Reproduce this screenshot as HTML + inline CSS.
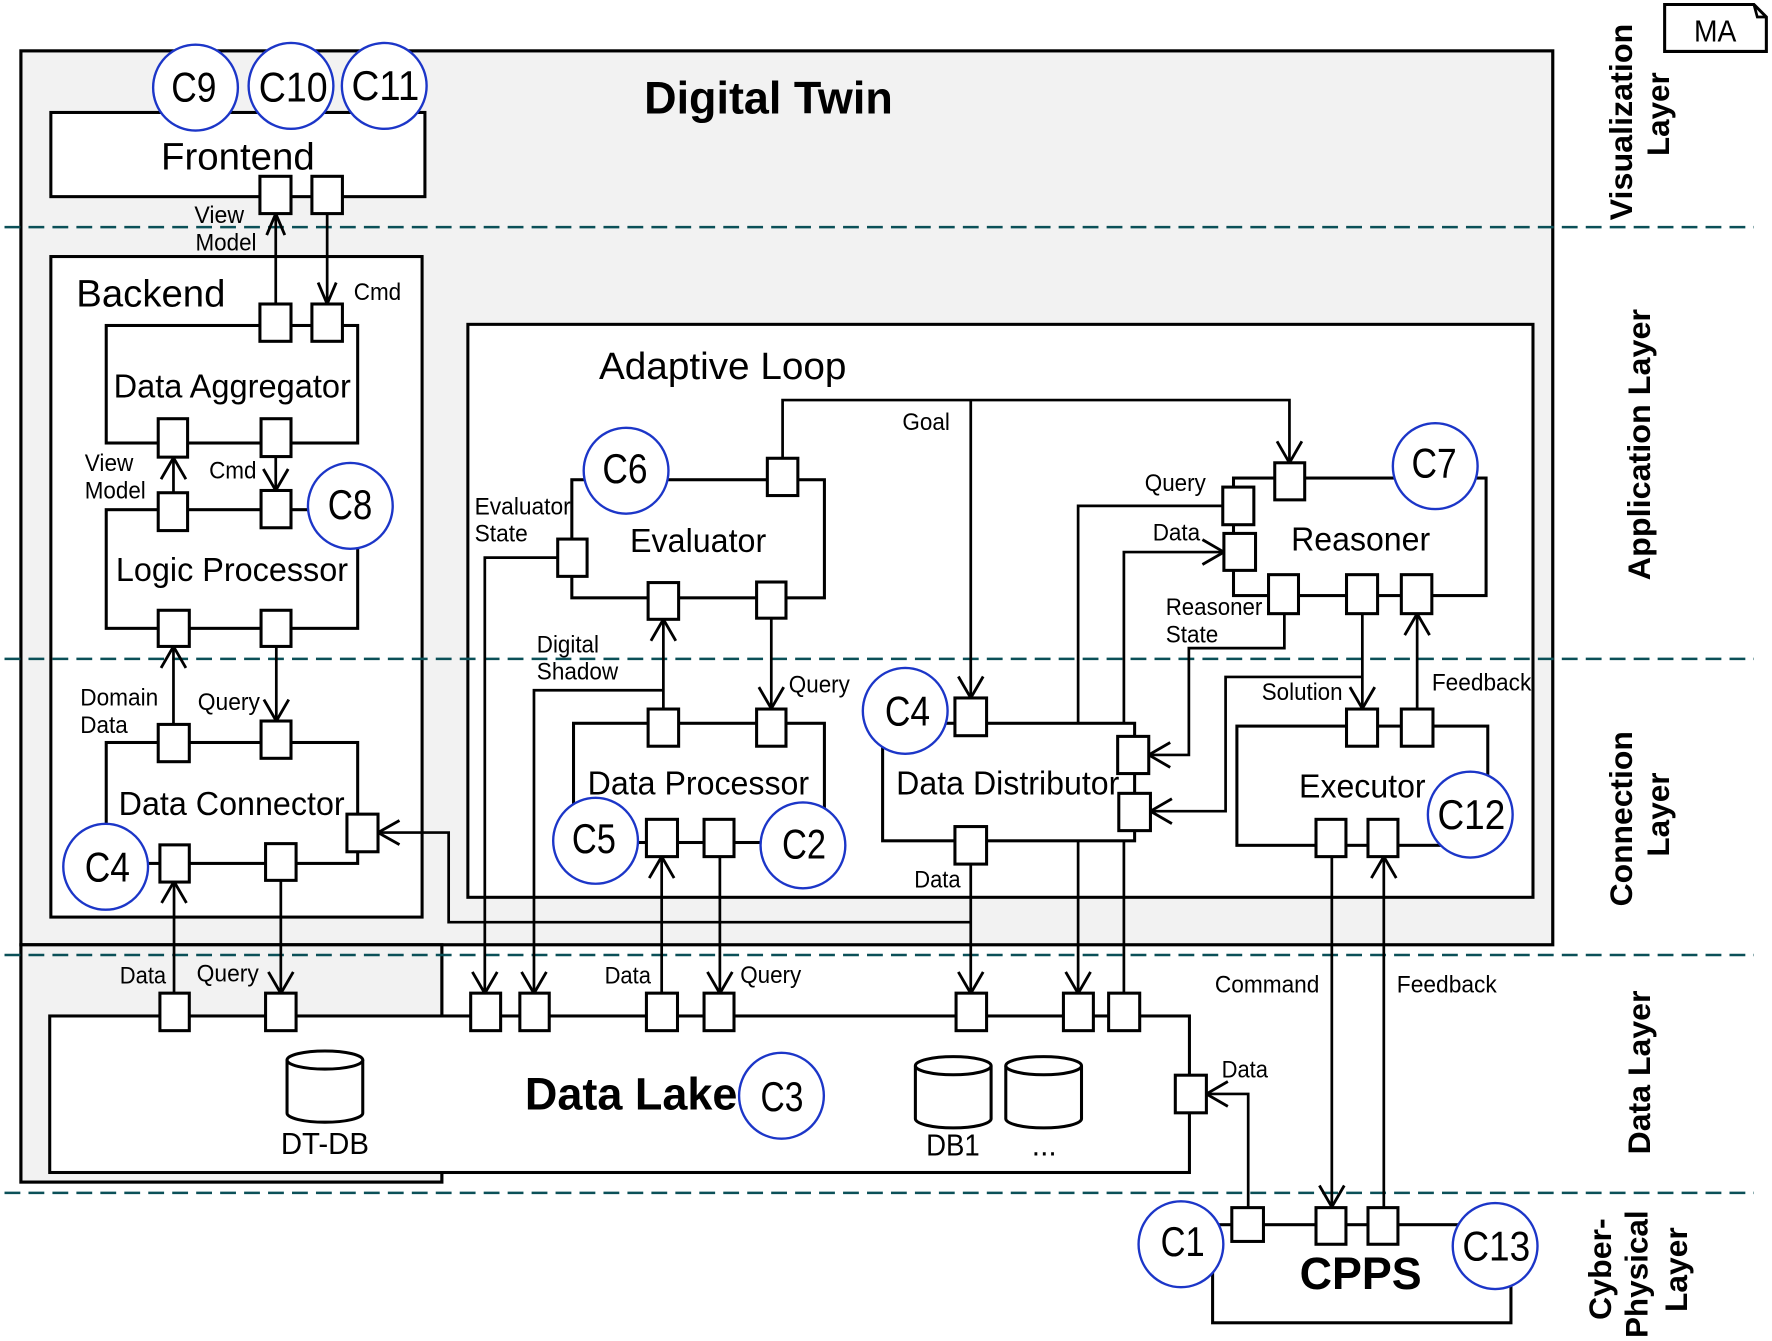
<!DOCTYPE html>
<html><head><meta charset="utf-8"><title>Digital Twin Architecture</title>
<style>
html,body{margin:0;padding:0;background:#fff}
svg{display:block}
text{font-family:"Liberation Sans",sans-serif;fill:#000}
text:not(.v){transform:translateY(.6px)}
.b{fill:#fff;stroke:#000;stroke-width:2.7}
.g{fill:#f2f2f2;stroke:#000;stroke-width:2.8}
.p{fill:#fff;stroke:#000;stroke-width:2.7}
.c{fill:none;stroke:#000;stroke-width:2.4}
.a{fill:none;stroke:#000;stroke-width:2.5}
.e{fill:#fff;stroke:#1c36c8;stroke-width:2.1}
.d{fill:none;stroke:#0b5058;stroke-width:2.2;stroke-dasharray:14 7.2}
.s{font-size:21px}
.m{font-size:29.500px}
.l{font-size:33.500px}
.k{font-size:37px}
.h{font-weight:bold;font-size:40.500px}
.v{font-weight:bold;font-size:28px}
</style></head><body>
<svg xmlns="http://www.w3.org/2000/svg" width="1772" height="1341" viewBox="0 0 1568 1186.6">
<rect width="1568" height="1187" fill="#fff"/>

<!-- containers -->
<rect class="g" x="18.5" y="45" width="1355.5" height="791"/>
<rect class="g" x="18.5" y="836" width="372.5" height="210"/>
<rect class="b" x="44" y="899" width="1008.5" height="138.5"/>
<rect class="b" x="45" y="99.5" width="331" height="74.5"/>
<rect class="b" x="45" y="227" width="328.5" height="584.5"/>
<rect class="b" x="414" y="287" width="942.5" height="507"/>

<!-- components -->
<rect class="b" x="94" y="288" width="222.5" height="104"/>
<rect class="b" x="94" y="451" width="222.5" height="105"/>
<rect class="b" x="94" y="657" width="222.5" height="107"/>
<rect class="b" x="506" y="424.5" width="223.5" height="104.5"/>
<rect class="b" x="507.5" y="640" width="222" height="105.5"/>
<rect class="b" x="781" y="640" width="223" height="104"/>
<rect class="b" x="1091.5" y="423" width="223.5" height="104"/>
<rect class="b" x="1094.5" y="642.5" width="222" height="105.5"/>
<rect class="b" x="1073" y="1083.7" width="264" height="86.8"/>

<!-- layer dividers -->
<path class="d" d="M4 201H1552M4 583H1552M4 845H1552M4 1055.5H1552"/>

<!-- connectors -->
<path class="c" d="M244 269V189M289.5 189V269M153.5 405V436M244 404V434M153.5 641V572M244.5 572V638M154 879V780M248.5 779V879"/>
<path class="c" d="M334.5 736.7H397V816H859M859 764.6V879"/>
<path class="c" d="M692.5 405.5V354H1141V409.5M859 354V617.6"/>
<path class="c" d="M493.5 493.4H429V879"/>
<path class="c" d="M587 627V548M587 610.8H472.5V879"/>
<path class="c" d="M682.5 547V627M585.5 879V758M637 758V879"/>
<path class="c" d="M1082 447.6H954V640M954 744V879"/>
<path class="c" d="M1083 488.5H994.5V640M994.5 744V879"/>
<path class="c" d="M1136.5 543V573.5H1052V668H1016.5"/>
<path class="c" d="M1205.5 543V627M1205.5 599H1084.5V717.8H1018"/>
<path class="c" d="M1254 627V543"/>
<path class="c" d="M1178.5 758V1068M1224.5 1068V758"/>
<path class="c" d="M1104.5 1068V968H1067.5"/>

<!-- arrowheads -->
<g class="a">
<polyline class="a" points="236,208 244,189 252,208"/>
<polyline class="a" points="281.500,250 289.500,269 297.500,250"/>
<polyline class="a" points="142.500,424 153.500,405 164.500,424"/>
<polyline class="a" points="233,415 244,434 255,415"/>
<polyline class="a" points="142.500,591 153.500,572 164.500,591"/>
<polyline class="a" points="233.500,619 244.500,638 255.500,619"/>
<polyline class="a" points="143,799 154,780 165,799"/>
<polyline class="a" points="237.500,860 248.500,879 259.500,860"/>
<polyline class="a" points="353.500,726 334.500,736.700 353.500,747.400"/>
<polyline class="a" points="848,860 859,879 870,860"/>
<polyline class="a" points="1130,390.500 1141,409.500 1152,390.500"/>
<polyline class="a" points="848,598.600 859,617.600 870,598.600"/>
<polyline class="a" points="418,860 429,879 440,860"/>
<polyline class="a" points="461.500,860 472.500,879 483.500,860"/>
<polyline class="a" points="576,567 587,548 598,567"/>
<polyline class="a" points="671.500,608 682.500,627 693.500,608"/>
<polyline class="a" points="574.500,777 585.500,758 596.500,777"/>
<polyline class="a" points="626,860 637,879 648,860"/>
<polyline class="a" points="943,860 954,879 965,860"/>
<polyline class="a" points="1064,477.500 1083,488.500 1064,499.500"/>
<polyline class="a" points="1035.500,657 1016.500,668 1035.500,679"/>
<polyline class="a" points="1037,706.800 1018,717.800 1037,728.800"/>
<polyline class="a" points="1194.500,608 1205.500,627 1216.500,608"/>
<polyline class="a" points="1243,562 1254,543 1265,562"/>
<polyline class="a" points="1167.500,1049 1178.500,1068 1189.500,1049"/>
<polyline class="a" points="1213.500,777 1224.500,758 1235.500,777"/>
<polyline class="a" points="1086.500,957 1067.500,968 1086.500,979"/>
</g>

<!-- ports -->
<rect class="p" x="230" y="156" width="27.500" height="33"/>
<rect class="p" x="276" y="156" width="27" height="33"/>
<rect class="p" x="230" y="269" width="27.500" height="33"/>
<rect class="p" x="276" y="269" width="27" height="33"/>
<rect class="p" x="140" y="370.500" width="26" height="34"/>
<rect class="p" x="231" y="370.500" width="26.500" height="33.500"/>
<rect class="p" x="140" y="436" width="26" height="33.500"/>
<rect class="p" x="231" y="434" width="26.500" height="33"/>
<rect class="p" x="140" y="540" width="27.500" height="32"/>
<rect class="p" x="231" y="540" width="26.500" height="32"/>
<rect class="p" x="140" y="641" width="27.500" height="33"/>
<rect class="p" x="231" y="638" width="26.500" height="33"/>
<rect class="p" x="307" y="720.400" width="27.500" height="33.300"/>
<rect class="p" x="141.500" y="747.600" width="26" height="32.900"/>
<rect class="p" x="235" y="746.500" width="27" height="32.500"/>
<rect class="p" x="679" y="405.500" width="27" height="33"/>
<rect class="p" x="493.500" y="477" width="26" height="33"/>
<rect class="p" x="573.500" y="515.500" width="27" height="32.500"/>
<rect class="p" x="669.500" y="515" width="26" height="32"/>
<rect class="p" x="573.500" y="627.400" width="27" height="32.900"/>
<rect class="p" x="669.500" y="627.400" width="26" height="32.900"/>
<rect class="p" x="572" y="725" width="27.500" height="33"/>
<rect class="p" x="623" y="725" width="26.500" height="33"/>
<rect class="p" x="845" y="617.600" width="28" height="33.400"/>
<rect class="p" x="989" y="651.600" width="27.500" height="32.900"/>
<rect class="p" x="990" y="702" width="28" height="33"/>
<rect class="p" x="845" y="731.400" width="28" height="33.200"/>
<rect class="p" x="1128" y="409.500" width="26.500" height="32.800"/>
<rect class="p" x="1082" y="431" width="27.500" height="33.300"/>
<rect class="p" x="1083" y="472" width="28" height="32.700"/>
<rect class="p" x="1122.500" y="508.500" width="26.500" height="34.500"/>
<rect class="p" x="1191.500" y="508.500" width="27.500" height="34.500"/>
<rect class="p" x="1240" y="508.500" width="27" height="34.500"/>
<rect class="p" x="1191.500" y="627.400" width="27.500" height="32.900"/>
<rect class="p" x="1240" y="627.400" width="28" height="32.900"/>
<rect class="p" x="1164.500" y="725" width="26.500" height="33"/>
<rect class="p" x="1210.500" y="725" width="26.500" height="33"/>
<rect class="p" x="141.500" y="878.800" width="26" height="33.200"/>
<rect class="p" x="235" y="878.800" width="27" height="33.200"/>
<rect class="p" x="416.500" y="878.800" width="26.500" height="33.200"/>
<rect class="p" x="460" y="878.800" width="26" height="33.200"/>
<rect class="p" x="572" y="878.800" width="27.500" height="33.200"/>
<rect class="p" x="623" y="878.800" width="26.500" height="33.200"/>
<rect class="p" x="846" y="878.800" width="27" height="33.200"/>
<rect class="p" x="941" y="878.800" width="26.500" height="33.200"/>
<rect class="p" x="981" y="878.800" width="27.500" height="33.200"/>
<rect class="p" x="1040" y="951.400" width="27.500" height="33.300"/>
<rect class="p" x="1090" y="1068.600" width="28" height="29.900"/>
<rect class="p" x="1164.500" y="1068.600" width="26.500" height="32.400"/>
<rect class="p" x="1210.500" y="1068.600" width="26.500" height="32.400"/>

<!-- databases -->
<path class="b" d="M254 938V985A33.500 8 0 0 0 321 985V938"/><ellipse class="b" cx="287.500" cy="938" rx="33.500" ry="8"/>
<path class="b" d="M810 943V990A33.500 8 0 0 0 877 990V943"/><ellipse class="b" cx="843.500" cy="943" rx="33.500" ry="8"/>
<path class="b" d="M890 943V990A33.500 8 0 0 0 957 990V943"/><ellipse class="b" cx="923.500" cy="943" rx="33.500" ry="8"/>

<!-- MA note -->
<path class="b" d="M1473 4H1552L1563 15V45.500H1473Z"/><path class="c" d="M1552 4L1555 15H1563" stroke-width="1.500"/>
<text x="1499" y="36" font-size="27" textLength="37.500" lengthAdjust="spacingAndGlyphs">MA</text>

<!-- capability circles -->
<ellipse class="e" cx="173" cy="77.500" rx="37.500" ry="38"/>
<ellipse class="e" cx="257.500" cy="76" rx="37.500" ry="38"/>
<ellipse class="e" cx="340" cy="76" rx="37.500" ry="38"/>
<ellipse class="e" cx="310" cy="447.600" rx="37.500" ry="38"/>
<ellipse class="e" cx="554" cy="416.500" rx="37.500" ry="38"/>
<ellipse class="e" cx="1270" cy="412.500" rx="37.500" ry="38"/>
<ellipse class="e" cx="93.500" cy="767" rx="37.500" ry="38"/>
<ellipse class="e" cx="527" cy="744" rx="37.500" ry="38"/>
<ellipse class="e" cx="710.500" cy="748" rx="37.500" ry="38"/>
<ellipse class="e" cx="801" cy="629" rx="37.500" ry="38"/>
<ellipse class="e" cx="1301" cy="720.800" rx="37.500" ry="38"/>
<ellipse class="e" cx="691.500" cy="969.600" rx="37.500" ry="38"/>
<ellipse class="e" cx="1045" cy="1101" rx="37.500" ry="38"/>
<ellipse class="e" cx="1323" cy="1102.600" rx="37.500" ry="38"/>

<text class="k" x="151.500" y="89" textLength="40" lengthAdjust="spacingAndGlyphs">C9</text>
<text class="k" x="229" y="89" textLength="61" lengthAdjust="spacingAndGlyphs">C10</text>
<text class="k" x="311" y="88" textLength="60" lengthAdjust="spacingAndGlyphs">C11</text>
<text class="k" x="290" y="458.600" textLength="39.500" lengthAdjust="spacingAndGlyphs">C8</text>
<text class="k" x="533" y="427" textLength="40" lengthAdjust="spacingAndGlyphs">C6</text>
<text class="k" x="1249" y="422" textLength="40" lengthAdjust="spacingAndGlyphs">C7</text>
<text class="k" x="75" y="779.500" textLength="40" lengthAdjust="spacingAndGlyphs">C4</text>
<text class="k" x="506" y="754" textLength="39" lengthAdjust="spacingAndGlyphs">C5</text>
<text class="k" x="692" y="759" textLength="39" lengthAdjust="spacingAndGlyphs">C2</text>
<text class="k" x="783" y="641.400" textLength="40" lengthAdjust="spacingAndGlyphs">C4</text>
<text class="k" x="1272" y="733" textLength="60" lengthAdjust="spacingAndGlyphs">C12</text>
<text class="k" x="673" y="982.400" textLength="38" lengthAdjust="spacingAndGlyphs">C3</text>
<text class="k" x="1027" y="1111" textLength="39" lengthAdjust="spacingAndGlyphs">C1</text>
<text class="k" x="1294" y="1114.700" textLength="60" lengthAdjust="spacingAndGlyphs">C13</text>

<!-- titles -->
<text class="h" x="570" y="100" textLength="220" lengthAdjust="spacingAndGlyphs">Digital Twin</text>
<text class="h" x="464.500" y="981" textLength="188" lengthAdjust="spacingAndGlyphs">Data Lake</text>
<text class="h" x="1150" y="1140" textLength="108" lengthAdjust="spacingAndGlyphs">CPPS</text>
<text class="l" x="142.500" y="149.500" textLength="136" lengthAdjust="spacingAndGlyphs">Frontend</text>
<text class="l" x="67.500" y="270.700" textLength="132" lengthAdjust="spacingAndGlyphs">Backend</text>
<text class="l" x="530" y="334.600" textLength="219" lengthAdjust="spacingAndGlyphs">Adaptive Loop</text>
<text class="m" x="100.500" y="351" textLength="210" lengthAdjust="spacingAndGlyphs">Data Aggregator</text>
<text class="m" x="102.500" y="513.500" textLength="205.500" lengthAdjust="spacingAndGlyphs">Logic Processor</text>
<text class="m" x="105" y="720.400" textLength="200" lengthAdjust="spacingAndGlyphs">Data Connector</text>
<text class="m" x="557.500" y="487.700" textLength="120.500" lengthAdjust="spacingAndGlyphs">Evaluator</text>
<text class="m" x="1142.500" y="486.600" textLength="123" lengthAdjust="spacingAndGlyphs">Reasoner</text>
<text class="m" x="520" y="702.600" textLength="196" lengthAdjust="spacingAndGlyphs">Data Processor</text>
<text class="m" x="793" y="702.600" textLength="197.500" lengthAdjust="spacingAndGlyphs">Data Distributor</text>
<text class="m" x="1149.500" y="705" textLength="112" lengthAdjust="spacingAndGlyphs">Executor</text>
<text x="248.500" y="1020.500" font-size="27" textLength="78" lengthAdjust="spacingAndGlyphs">DT-DB</text>
<text x="819.500" y="1022" font-size="27" textLength="47.500" lengthAdjust="spacingAndGlyphs">DB1</text>
<text x="913" y="1022" font-size="27" textLength="22" lengthAdjust="spacingAndGlyphs">...</text>

<!-- connector labels -->
<text class="s" x="172" y="196.600" textLength="44" lengthAdjust="spacingAndGlyphs">View</text>
<text class="s" x="173" y="221" textLength="54" lengthAdjust="spacingAndGlyphs">Model</text>
<text class="s" x="313" y="264.700" textLength="42" lengthAdjust="spacingAndGlyphs">Cmd</text>
<text class="s" x="75" y="416" textLength="43" lengthAdjust="spacingAndGlyphs">View</text>
<text class="s" x="75" y="440.500" textLength="54" lengthAdjust="spacingAndGlyphs">Model</text>
<text class="s" x="185" y="422.700" textLength="42" lengthAdjust="spacingAndGlyphs">Cmd</text>
<text class="s" x="71" y="623.600" textLength="69" lengthAdjust="spacingAndGlyphs">Domain</text>
<text class="s" x="71" y="648" textLength="42" lengthAdjust="spacingAndGlyphs">Data</text>
<text class="s" x="175" y="627.800" textLength="55" lengthAdjust="spacingAndGlyphs">Query</text>
<text class="s" x="420" y="454.500" textLength="85" lengthAdjust="spacingAndGlyphs">Evaluator</text>
<text class="s" x="420" y="478.600" textLength="47" lengthAdjust="spacingAndGlyphs">State</text>
<text class="s" x="475" y="576.600" textLength="55" lengthAdjust="spacingAndGlyphs">Digital</text>
<text class="s" x="475" y="600.600" textLength="72" lengthAdjust="spacingAndGlyphs">Shadow</text>
<text class="s" x="698" y="612" textLength="54" lengthAdjust="spacingAndGlyphs">Query</text>
<text class="s" x="798.500" y="380" textLength="42" lengthAdjust="spacingAndGlyphs">Goal</text>
<text class="s" x="1013" y="433.700" textLength="54" lengthAdjust="spacingAndGlyphs">Query</text>
<text class="s" x="1020" y="477.500" textLength="42" lengthAdjust="spacingAndGlyphs">Data</text>
<text class="s" x="1031.500" y="543.700" textLength="85.500" lengthAdjust="spacingAndGlyphs">Reasoner</text>
<text class="s" x="1031.500" y="568" textLength="46.500" lengthAdjust="spacingAndGlyphs">State</text>
<text class="s" x="1116.500" y="618.700" textLength="71.500" lengthAdjust="spacingAndGlyphs">Solution</text>
<text class="s" x="1267" y="610.400" textLength="88" lengthAdjust="spacingAndGlyphs">Feedback</text>
<text class="s" x="809" y="784.700" textLength="41" lengthAdjust="spacingAndGlyphs">Data</text>
<text class="s" x="106" y="869.800" textLength="41" lengthAdjust="spacingAndGlyphs">Data</text>
<text class="s" x="174" y="868" textLength="55" lengthAdjust="spacingAndGlyphs">Query</text>
<text class="s" x="535" y="869.800" textLength="41" lengthAdjust="spacingAndGlyphs">Data</text>
<text class="s" x="655" y="869.400" textLength="54" lengthAdjust="spacingAndGlyphs">Query</text>
<text class="s" x="1075" y="877.700" textLength="92.500" lengthAdjust="spacingAndGlyphs">Command</text>
<text class="s" x="1236" y="877.700" textLength="88.500" lengthAdjust="spacingAndGlyphs">Feedback</text>
<text class="s" x="1081" y="953" textLength="41" lengthAdjust="spacingAndGlyphs">Data</text>

<!-- layer labels -->
<text class="v" transform="translate(1444,195) rotate(-90)" textLength="174" lengthAdjust="spacingAndGlyphs">Visualization</text>
<text class="v" transform="translate(1477,138) rotate(-90)" textLength="74" lengthAdjust="spacingAndGlyphs">Layer</text>
<text class="v" transform="translate(1460,513.400) rotate(-90)" textLength="240" lengthAdjust="spacingAndGlyphs">Application Layer</text>
<text class="v" transform="translate(1444,802) rotate(-90)" textLength="155" lengthAdjust="spacingAndGlyphs">Connection</text>
<text class="v" transform="translate(1477,758) rotate(-90)" textLength="74.500" lengthAdjust="spacingAndGlyphs">Layer</text>
<text class="v" transform="translate(1460,1021.500) rotate(-90)" textLength="145" lengthAdjust="spacingAndGlyphs">Data Layer</text>
<text class="v" transform="translate(1425.500,1168) rotate(-90)" textLength="90" lengthAdjust="spacingAndGlyphs">Cyber-</text>
<text class="v" transform="translate(1458,1184) rotate(-90)" textLength="113" lengthAdjust="spacingAndGlyphs">Physical</text>
<text class="v" transform="translate(1493,1161) rotate(-90)" textLength="75" lengthAdjust="spacingAndGlyphs">Layer</text>
</svg>
</body></html>
